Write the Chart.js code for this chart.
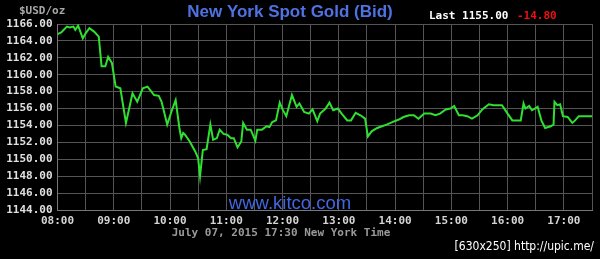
<!DOCTYPE html>
<html>
<head>
<meta charset="utf-8">
<script src="https://cdn.jsdelivr.net/npm/chart.js@4"></script>
<style>
  body { margin: 0; background: #000; }
  #wrap { width: 600px; height: 259px; position: relative; }
</style>
</head>
<body>
<div id="wrap"><canvas id="goldChart"></canvas></div>
<script>
// minutes after 08:00 and bid price
const minutes = [0, 4, 10, 13, 17, 19, 22, 27, 30, 34, 39, 44, 47, 51, 54, 58, 62, 67, 73, 76,
    80, 85, 91, 96, 103, 108, 111, 117, 122, 126, 130, 132, 134, 136, 141, 147, 150, 152, 155, 159,
    163, 166, 170, 173, 177, 181, 185, 188, 192, 196, 198, 202, 206, 211, 213, 218, 223, 226, 229, 233,
    237, 240, 244, 250, 255, 258, 263, 268, 272, 277, 280, 286, 290, 294, 299, 303, 309, 313, 318, 323,
    328, 331, 335, 341, 346, 351, 357, 364, 369, 375, 380, 385, 391, 398, 403, 408, 414, 419, 423, 428,
    432, 437, 442, 448, 453, 460, 465, 474, 480, 485, 494, 497, 499, 503, 506, 512, 516, 520, 526, 529,
    530, 533, 536, 539, 544, 549, 552, 556, 570];
const prices = [1164.8, 1165.0, 1165.7, 1165.6, 1165.7, 1165.3, 1165.8, 1164.3, 1164.9, 1165.5, 1165.1, 1164.5, 1161.0, 1161.0, 1162.1, 1161.4, 1158.6, 1158.4, 1154.3, 1155.8,
    1157.8, 1156.8, 1158.4, 1158.6, 1157.6, 1157.5, 1156.8, 1154.1, 1155.8, 1157.0, 1153.7, 1152.5, 1153.1, 1152.9, 1152.1, 1150.9, 1150.1, 1148.0, 1151.1, 1151.2,
    1154.1, 1152.3, 1152.5, 1153.5, 1153.0, 1152.9, 1152.5, 1152.5, 1151.4, 1152.1, 1154.3, 1153.5, 1153.5, 1152.2, 1153.5, 1153.5, 1153.9, 1153.8, 1154.4, 1154.6,
    1156.7, 1155.9, 1155.1, 1157.6, 1156.2, 1156.6, 1155.6, 1155.4, 1155.9, 1154.5, 1155.4, 1156.0, 1156.7, 1155.8, 1156.0, 1155.4, 1154.6, 1154.6, 1155.5, 1155.2,
    1154.8, 1152.7, 1153.3, 1153.7, 1153.9, 1154.1, 1154.4, 1154.7, 1155.0, 1155.2, 1155.2, 1154.8, 1155.4, 1155.4, 1155.2, 1155.4, 1155.9, 1156.0, 1156.3, 1155.2,
    1155.2, 1155.1, 1154.8, 1155.2, 1155.9, 1156.5, 1156.4, 1156.4, 1155.4, 1154.6, 1154.6, 1156.6, 1156.0, 1156.3, 1155.8, 1156.2, 1154.6, 1153.7, 1153.9, 1154.1,
    1156.8, 1156.4, 1156.5, 1155.1, 1155.0, 1154.3, 1154.6, 1155.1, 1155.1];
const hourLabels = ['08:00', '09:00', '10:00', '11:00', '12:00', '13:00', '14:00', '15:00', '16:00', '17:00'];

const monoBold = 'bold 11px "DejaVu Sans Mono", monospace';

// header/footer texts drawn straight onto the canvas
const textPlugin = {
    id: 'kitcoTexts',
    afterDraw(chart) {
        const ctx = chart.ctx;
        ctx.save();
        ctx.textBaseline = 'middle';

        ctx.font = monoBold;
        ctx.fillStyle = '#a8a8a8';
        ctx.textAlign = 'left';
        ctx.fillText('$USD/oz', 19, 11);

        ctx.font = 'bold 17px "Liberation Sans", Arial, sans-serif';
        ctx.fillStyle = '#4f72e3';
        ctx.textAlign = 'center';
        ctx.fillText('New York Spot Gold (Bid)', 290, 12);

        ctx.font = monoBold;
        ctx.textAlign = 'left';
        ctx.fillStyle = '#ffffff';
        ctx.fillText('Last 1155.00', 429, 16);
        ctx.fillStyle = '#ee1111';
        ctx.fillText('-14.80', 517, 16);

        ctx.font = '18.5px "Liberation Sans", Arial, sans-serif';
        ctx.fillStyle = '#4466e0';
        ctx.textAlign = 'center';
        ctx.fillText('www.kitco.com', 290, 204);

        ctx.font = monoBold;
        ctx.fillStyle = '#9a9a9a';
        ctx.fillText('July 07, 2015 17:30 New York Time', 281, 233);

        ctx.font = '12px "DejaVu Sans Condensed", "Liberation Sans", sans-serif';
        ctx.fillStyle = '#ffffff';
        ctx.textAlign = 'right';
        ctx.fillText('[630x250] http://upic.me/', 594, 247);
        ctx.restore();
    }
};

new Chart(document.getElementById('goldChart'), {
    type: 'line',
    data: {
        datasets: [{
            data: minutes.map((m, i) => ({ x: m, y: prices[i] })),
            borderColor: '#30e030',
            borderWidth: 2,
            pointRadius: 0,
            tension: 0
        }]
    },
    options: {
        responsive: true,
        maintainAspectRatio: false,
        animation: false,
        layout: { padding: { top: 24, right: 8, bottom: 0, left: 0 } },
        plugins: { legend: { display: false }, tooltip: { enabled: false } },
        scales: {
            x: {
                type: 'linear',
                min: 0,
                max: 570,
                afterFit: s => { s.height = 49; },
                grid: { color: '#555', drawTicks: false },
                border: { color: '#777' },
                ticks: {
                    stepSize: 30,
                    autoSkip: false,
                    maxRotation: 0,
                    padding: 5,
                    color: '#d4d4d4',
                    font: { family: '"DejaVu Sans Mono", monospace', size: 11, weight: 'bold' },
                    callback: v => v % 60 === 0 ? hourLabels[v / 60] : ''
                }
            },
            y: {
                min: 1144,
                max: 1166,
                afterFit: s => { s.width = 57.5; },
                grid: { color: '#555', drawTicks: false },
                border: { color: '#777' },
                ticks: {
                    stepSize: 2,
                    padding: 5,
                    color: '#e0e0e0',
                    font: { family: '"DejaVu Sans Mono", monospace', size: 11, weight: 'bold' },
                    callback: v => v.toFixed(2)
                }
            }
        }
    },
    plugins: [textPlugin]
});
</script>
</body>
</html>
